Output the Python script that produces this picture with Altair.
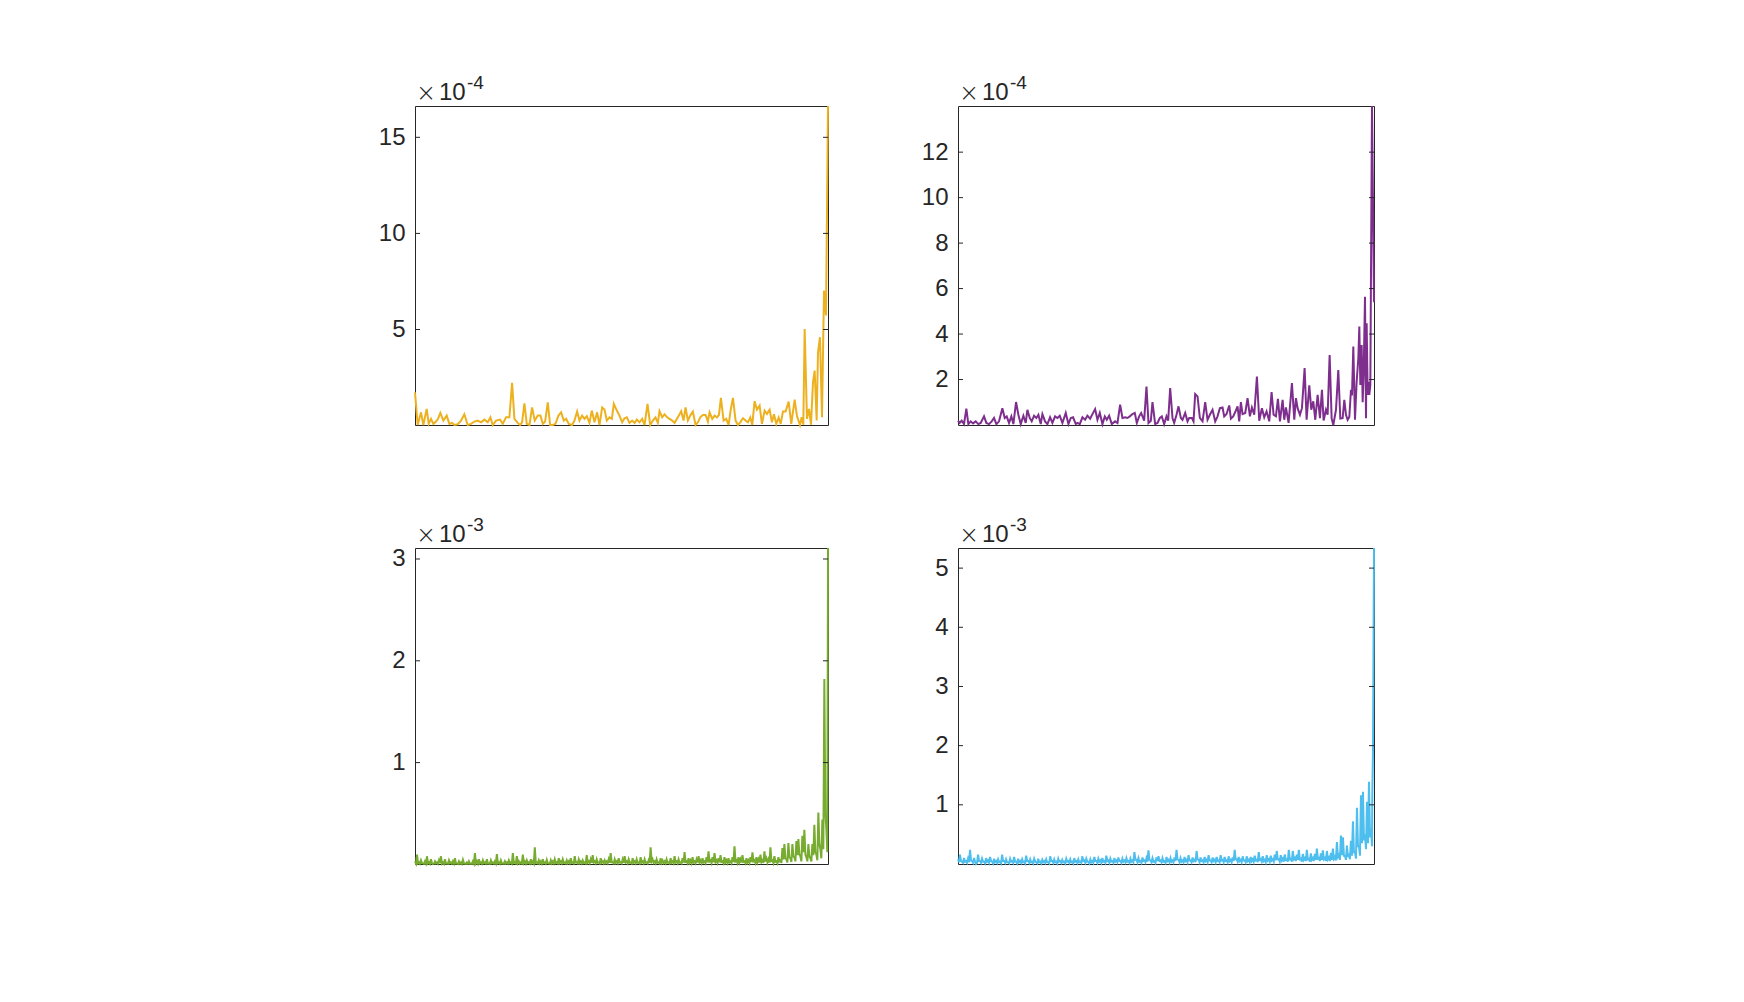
import altair as alt
import pandas as pd

# ---------------- DATA (x in frequency-bin units, y in units of the axis multiplier) ----------------
yellow_x = [7, 15, 25, 32, 42, 48, 55, 62, 70, 76, 83, 92, 102, 110, 118, 125, 135, 145, 155, 165,
            175, 185, 195, 205, 215, 225, 233, 240, 250, 262, 270, 280, 290, 298, 305, 315, 322, 328, 335, 342,
            350, 358, 366, 375, 383, 390, 397, 405, 412, 420, 428, 437, 445, 453, 460, 468, 478, 485, 493, 500,
            508, 515, 522, 530, 537, 545, 553, 560, 568, 575, 582, 590, 597, 603, 612, 620, 628, 635, 642, 650,
            658, 665, 672, 680, 688, 695, 704, 712, 720, 728, 735, 740, 748, 755, 763, 770, 778, 785, 795, 805,
            812, 818, 825, 832, 840, 848, 855, 862, 870, 878, 885, 890, 898, 905, 912, 918, 924, 932, 940, 947,
            953, 960, 968, 975, 982, 990, 998, 1005, 1012, 1018, 1025, 1032, 1040, 1047, 1055, 1062, 1070, 1077, 1083, 1090,
            1097, 1103, 1110, 1118, 1127, 1135, 1145, 1152, 1161, 1166, 1171, 1175, 1182, 1188, 1194, 1200, 1205, 1211, 1215, 1221,
            1227, 1233, 1239, 1245]
yellow_v = [1.73, 0.03, 0.69, 0.03, 0.87, 0.09, 0.35, 0.09, 0.21, 0.35, 0.66, 0.26, 0.52, 0.09, 0.14, 0.03, 0.07, 0.26, 0.59, 0.03,
            0.09, 0.21, 0.26, 0.17, 0.31, 0.17, 0.43, 0.03, 0.26, 0.31, 0.09, 0.43, 0.43, 2.22, 0.35, 0.14, 0.03, 0.17, 1.16, 0.09,
            0.03, 0.94, 0.26, 0.52, 0.52, 0.09, 0.21, 1.21, 0.03, 0.03, 0.09, 0.52, 0.69, 0.26, 0.35, 0.09, 0.03, 0.26, 0.73, 0.26,
            0.52, 0.35, 0.49, 0.14, 0.78, 0.17, 0.69, 0.03, 0.94, 0.83, 0.26, 0.43, 0.35, 1.13, 0.78, 0.52, 0.17, 0.38, 0.43, 0.14,
            0.26, 0.14, 0.31, 0.17, 0.35, 0.03, 1.13, 0.03, 0.26, 0.43, 0.14, 0.75, 0.43, 0.59, 0.43, 0.35, 0.26, 0.14, 0.43, 0.75,
            0.26, 0.95, 0.26, 0.52, 0.73, 0.03, 0.17, 0.43, 0.55, 0.55, 0.21, 0.69, 0.35, 0.52, 0.43, 0.55, 1.44, 0.26, 0.35, 0.03,
            0.78, 1.44, 0.26, 0.03, 0.17, 0.38, 0.26, 0.17, 0.43, 0.03, 1.27, 0.83, 1.04, 0.09, 0.78, 0.61, 0.83, 0.17, 0.59, 0.09,
            0.42, 0.09, 0.73, 0.73, 1.25, 0.09, 1.35, 0.50, 0.03, 0.43, 0.05, 5.03, 0.35, 0.87, 0.05, 2.25, 2.86, 0.26, 3.81, 4.60,
            0.43, 7.03, 5.73, 16.63]

purple_x = [7, 12, 18, 25, 32, 38, 45, 52, 60, 68, 75, 85, 92, 100, 108, 115, 122, 130, 140, 147,
            153, 160, 167, 173, 181, 188, 195, 203, 210, 215, 222, 228, 235, 242, 248, 255, 260, 268, 275, 283,
            290, 298, 305, 312, 320, 330, 338, 345, 352, 360, 365, 372, 380, 388, 395, 403, 410, 418, 425, 432,
            440, 447, 453, 460, 468, 478, 485, 493, 500, 508, 515, 522, 530, 537, 543, 550, 556, 565, 572, 578,
            585, 590, 598, 605, 612, 618, 625, 632, 637, 643, 650, 655, 662, 668, 675, 680, 688, 695, 700, 708,
            713, 718, 725, 732, 740, 748, 755, 762, 770, 778, 785, 792, 800, 805, 812, 820, 825, 832, 838, 845,
            850, 855, 860, 868, 875, 882, 888, 895, 903, 910, 918, 925, 932, 940, 947, 953, 960, 966, 972, 980,
            985, 990, 998, 1008, 1015, 1020, 1025, 1032, 1038, 1046, 1052, 1060, 1066, 1072, 1078, 1085, 1092, 1098, 1103, 1110,
            1115, 1121, 1127, 1132, 1140, 1147, 1153, 1160, 1165, 1170, 1175, 1180, 1185, 1188, 1192, 1197, 1202, 1207, 1210, 1213,
            1217, 1220, 1223, 1227, 1230, 1232, 1235, 1237, 1240, 1243, 1248, 1254]
purple_v = [0.19, 0.09, 0.19, 0.04, 0.72, 0.04, 0.16, 0.07, 0.16, 0.04, 0.09, 0.38, 0.09, 0.04, 0.16, 0.31, 0.04, 0.16, 0.74, 0.31,
            0.38, 0.09, 0.38, 0.04, 1.01, 0.45, 0.04, 0.41, 0.09, 0.67, 0.31, 0.16, 0.41, 0.31, 0.45, 0.04, 0.48, 0.16, 0.04, 0.34,
            0.09, 0.38, 0.31, 0.41, 0.09, 0.53, 0.04, 0.31, 0.34, 0.04, 0.09, 0.04, 0.34, 0.23, 0.41, 0.28, 0.48, 0.70, 0.23, 0.53,
            0.04, 0.38, 0.23, 0.41, 0.04, 0.16, 0.09, 0.89, 0.31, 0.34, 0.31, 0.38, 0.48, 0.53, 0.09, 0.38, 0.53, 0.19, 1.69, 0.09,
            0.19, 1.01, 0.04, 0.09, 0.31, 0.38, 0.04, 0.38, 0.19, 1.62, 0.31, 0.09, 0.45, 0.82, 0.31, 0.23, 0.53, 0.16, 0.31, 0.31,
            0.16, 1.36, 1.26, 0.31, 0.16, 1.01, 0.23, 0.45, 0.67, 0.16, 0.38, 0.74, 0.77, 0.38, 0.48, 0.86, 0.28, 0.38, 0.57, 0.82,
            0.16, 1.01, 0.48, 0.53, 1.18, 0.38, 0.77, 0.45, 2.13, 0.19, 0.74, 0.34, 0.60, 0.16, 1.45, 0.45, 0.38, 1.15, 0.16, 1.11,
            0.23, 0.77, 0.09, 1.84, 0.23, 1.18, 0.74, 0.45, 0.74, 2.50, 0.23, 1.74, 0.67, 1.04, 0.23, 1.33, 0.30, 1.55, 0.20, 0.67,
            0.45, 3.08, 0.29, 0.00, 0.67, 2.42, 0.28, 0.30, 1.11, 0.45, 0.23, 0.35, 1.55, 1.30, 3.45, 0.23, 1.90, 2.93, 4.33, 1.76,
            3.52, 1.00, 2.27, 5.64, 0.30, 4.47, 1.32, 1.90, 1.32, 1.76, 14.03, 5.40]

# green / blue: peak readings every 6 bins from bin 7, trough readings 3 bins later, then the final bins
green_peaks = [0.03, 0.095, 0.02, 0.04, 0.01, 0.03, 0.08, 0.02, 0.05, 0.004,
               0.03, 0.02, 0.04, 0.08, 0.02, 0.05, 0.01, 0.04, 0.02, 0.03,
               0.06, 0.01, 0.03, 0.02, 0.045, 0.01, 0.02, 0.03, 0.01, 0.03,
               0.11, 0.03, 0.05, 0.02, 0.04, 0.02, 0.05, 0.01, 0.04, 0.02,
               0.03, 0.10, 0.02, 0.04, 0.01, 0.03, 0.02, 0.04, 0.02, 0.11,
               0.02, 0.08, 0.03, 0.02, 0.095, 0.03, 0.04, 0.02, 0.05, 0.03,
               0.167, 0.02, 0.04, 0.03, 0.05, 0.02, 0.045, 0.01, 0.04, 0.03,
               0.05, 0.02, 0.06, 0.03, 0.05, 0.02, 0.04, 0.03, 0.06, 0.02,
               0.08, 0.02, 0.05, 0.03, 0.04, 0.02, 0.09, 0.03, 0.05, 0.09,
               0.03, 0.05, 0.02, 0.06, 0.03, 0.04, 0.03, 0.05, 0.11, 0.02,
               0.05, 0.03, 0.06, 0.02, 0.05, 0.08, 0.03, 0.05, 0.02, 0.06,
               0.03, 0.05, 0.02, 0.07, 0.03, 0.05, 0.02, 0.04, 0.167, 0.05,
               0.03, 0.05, 0.02, 0.06, 0.04, 0.03, 0.05, 0.02, 0.06, 0.03,
               0.08, 0.03, 0.05, 0.02, 0.06, 0.12, 0.03, 0.06, 0.04, 0.07,
               0.03, 0.05, 0.08, 0.04, 0.06, 0.03, 0.07, 0.128, 0.04, 0.07,
               0.11, 0.04, 0.06, 0.09, 0.03, 0.07, 0.04, 0.06, 0.03, 0.07,
               0.177, 0.04, 0.07, 0.05, 0.09, 0.03, 0.06, 0.04, 0.07, 0.118,
               0.04, 0.07, 0.05, 0.095, 0.04, 0.128, 0.06, 0.05, 0.167, 0.04,
               0.08, 0.03, 0.07, 0.04, 0.16, 0.20, 0.05, 0.21, 0.06, 0.20,
               0.07, 0.23, 0.25, 0.08, 0.28, 0.34, 0.07, 0.20, 0.06, 0.20,
               0.39, 0.10, 0.51, 0.15, 0.44, 1.82, 0.35]
green_troughs = [0.008, 0.01, 0.006, 0.012, 0.005, 0.009, 0.01, 0.006, 0.012, 0.008,
                 0.01, 0.006, 0.012, 0.008, 0.005, 0.01, 0.007, 0.012, 0.006, 0.009,
                 0.01, 0.005, 0.008, 0.006, 0.01, 0.005, 0.008, 0.006, 0.005, 0.009,
                 0.012, 0.008, 0.01, 0.006, 0.012, 0.008, 0.01, 0.006, 0.012, 0.008,
                 0.01, 0.012, 0.007, 0.01, 0.006, 0.009, 0.008, 0.012, 0.007, 0.015,
                 0.01, 0.012, 0.008, 0.01, 0.014, 0.009, 0.012, 0.008, 0.014, 0.01,
                 0.015, 0.01, 0.012, 0.009, 0.014, 0.008, 0.012, 0.007, 0.012, 0.01,
                 0.014, 0.01, 0.016, 0.012, 0.015, 0.01, 0.014, 0.012, 0.016, 0.01,
                 0.018, 0.01, 0.015, 0.012, 0.014, 0.01, 0.018, 0.012, 0.016, 0.02,
                 0.012, 0.016, 0.01, 0.018, 0.012, 0.015, 0.012, 0.016, 0.02, 0.01,
                 0.016, 0.012, 0.018, 0.01, 0.016, 0.02, 0.012, 0.016, 0.01, 0.018,
                 0.012, 0.016, 0.01, 0.02, 0.012, 0.016, 0.01, 0.014, 0.03, 0.016,
                 0.012, 0.016, 0.01, 0.018, 0.014, 0.012, 0.016, 0.01, 0.018, 0.012,
                 0.02, 0.012, 0.016, 0.01, 0.018, 0.025, 0.012, 0.018, 0.014, 0.02,
                 0.012, 0.018, 0.022, 0.014, 0.02, 0.012, 0.02, 0.03, 0.014, 0.02,
                 0.025, 0.015, 0.02, 0.025, 0.012, 0.02, 0.015, 0.02, 0.012, 0.022,
                 0.03, 0.015, 0.022, 0.018, 0.025, 0.012, 0.02, 0.015, 0.022, 0.03,
                 0.015, 0.022, 0.018, 0.025, 0.015, 0.03, 0.02, 0.018, 0.035, 0.015,
                 0.025, 0.012, 0.03, 0.015, 0.05, 0.06, 0.02, 0.07, 0.025, 0.08,
                 0.03, 0.09, 0.10, 0.03, 0.12, 0.10, 0.03, 0.08, 0.03, 0.09,
                 0.12, 0.04, 0.20, 0.06, 0.15, 0.50, 0.12]
green_end_x = [1248]
green_end_v = [3.108]

blue_peaks = [0.08, 0.16, 0.04, 0.10, 0.05, 0.09, 0.24, 0.05, 0.10, 0.00,
              0.16, 0.05, 0.09, 0.04, 0.10, 0.06, 0.12, 0.04, 0.09, 0.05,
              0.08, 0.04, 0.16, 0.05, 0.08, 0.03, 0.09, 0.05, 0.12, 0.04,
              0.09, 0.05, 0.08, 0.04, 0.14, 0.05, 0.08, 0.04, 0.09, 0.03,
              0.09, 0.04, 0.07, 0.05, 0.08, 0.03, 0.13, 0.05, 0.08, 0.04,
              0.09, 0.05, 0.07, 0.04, 0.09, 0.05, 0.08, 0.04, 0.10, 0.05,
              0.08, 0.04, 0.13, 0.06, 0.09, 0.04, 0.08, 0.05, 0.12, 0.05,
              0.09, 0.06, 0.10, 0.05, 0.14, 0.06, 0.09, 0.05, 0.10, 0.06,
              0.11, 0.05, 0.09, 0.06, 0.10, 0.05, 0.09, 0.06, 0.20, 0.07,
              0.10, 0.05, 0.11, 0.06, 0.10, 0.23, 0.06, 0.10, 0.05, 0.11,
              0.13, 0.06, 0.10, 0.05, 0.12, 0.07, 0.10, 0.06, 0.11, 0.24,
              0.07, 0.10, 0.06, 0.12, 0.07, 0.15, 0.06, 0.11, 0.07, 0.22,
              0.07, 0.11, 0.06, 0.12, 0.07, 0.15, 0.06, 0.11, 0.07, 0.12,
              0.06, 0.15, 0.07, 0.12, 0.06, 0.13, 0.07, 0.11, 0.24, 0.08,
              0.12, 0.07, 0.13, 0.06, 0.13, 0.07, 0.12, 0.08, 0.14, 0.07,
              0.20, 0.08, 0.13, 0.07, 0.15, 0.08, 0.14, 0.08, 0.16, 0.22,
              0.08, 0.15, 0.09, 0.16, 0.08, 0.24, 0.09, 0.22, 0.10, 0.16,
              0.24, 0.09, 0.17, 0.10, 0.24, 0.09, 0.18, 0.10, 0.17, 0.26,
              0.10, 0.18, 0.23, 0.10, 0.22, 0.11, 0.19, 0.26, 0.12, 0.37,
              0.15, 0.48, 0.45, 0.14, 0.31, 0.18, 0.39, 0.72, 0.20, 0.95,
              0.30, 1.16, 1.22, 0.50, 1.05, 1.39, 0.60]
blue_troughs = [0.03, 0.05, 0.02, 0.04, 0.02, 0.03, 0.06, 0.02, 0.04, 0.02,
                0.05, 0.02, 0.04, 0.01, 0.04, 0.02, 0.05, 0.01, 0.03, 0.02,
                0.03, 0.01, 0.05, 0.02, 0.03, 0.01, 0.04, 0.02, 0.04, 0.01,
                0.03, 0.02, 0.03, 0.01, 0.05, 0.02, 0.03, 0.01, 0.04, 0.01,
                0.03, 0.01, 0.03, 0.02, 0.03, 0.01, 0.05, 0.02, 0.03, 0.01,
                0.04, 0.02, 0.03, 0.01, 0.04, 0.02, 0.03, 0.01, 0.04, 0.02,
                0.03, 0.02, 0.05, 0.02, 0.04, 0.01, 0.03, 0.02, 0.05, 0.02,
                0.04, 0.02, 0.04, 0.02, 0.05, 0.02, 0.04, 0.02, 0.04, 0.03,
                0.05, 0.02, 0.04, 0.03, 0.04, 0.02, 0.04, 0.03, 0.07, 0.03,
                0.04, 0.02, 0.05, 0.03, 0.04, 0.07, 0.03, 0.04, 0.02, 0.05,
                0.05, 0.03, 0.04, 0.02, 0.05, 0.03, 0.04, 0.03, 0.05, 0.08,
                0.03, 0.04, 0.03, 0.05, 0.03, 0.06, 0.03, 0.05, 0.03, 0.08,
                0.03, 0.05, 0.03, 0.05, 0.03, 0.06, 0.03, 0.05, 0.03, 0.05,
                0.03, 0.06, 0.03, 0.05, 0.03, 0.05, 0.03, 0.05, 0.08, 0.04,
                0.05, 0.03, 0.06, 0.03, 0.05, 0.03, 0.05, 0.04, 0.06, 0.03,
                0.07, 0.04, 0.05, 0.03, 0.06, 0.04, 0.06, 0.04, 0.06, 0.08,
                0.04, 0.06, 0.04, 0.07, 0.04, 0.08, 0.04, 0.08, 0.05, 0.07,
                0.08, 0.04, 0.07, 0.05, 0.08, 0.04, 0.07, 0.05, 0.07, 0.09,
                0.05, 0.07, 0.08, 0.05, 0.08, 0.05, 0.07, 0.09, 0.06, 0.12,
                0.07, 0.15, 0.14, 0.07, 0.12, 0.08, 0.14, 0.20, 0.09, 0.30,
                0.14, 0.35, 0.40, 0.25, 0.35, 0.45, 0.30]
blue_end_x = [1247, 1249, 1252]
blue_end_v = [1.22, 1.90, 5.34]

bin_start = 7
bin_step = 6
trough_shift = 3

yellow_ticks = [5, 10, 15]
purple_ticks = [2, 4, 6, 8, 10, 12]
green_ticks = [1, 2, 3]
blue_ticks = [1, 2, 3, 4, 5]
exponents = ["-4", "-4", "-3", "-3"]
colors = ["#EDB120", "#7E2F8E", "#77AC30", "#4DBEEE"]


def interleave(peaks, troughs, end_x, end_v):
    xs, vs = [], []
    for k, (p, t) in enumerate(zip(peaks, troughs)):
        xs += [bin_start + bin_step * k, bin_start + bin_step * k + trough_shift]
        vs += [p, t]
    return xs + end_x, vs + end_v


green_x, green_v = interleave(green_peaks, green_troughs, green_end_x, green_end_v)
blue_x, blue_v = interleave(blue_peaks, blue_troughs, blue_end_x, blue_end_v)

FONT = "Liberation Sans"
INK = "#262626"


def panel(xs, vs, color, ticks, exp, w, h, sw):
    df = pd.DataFrame({"f": xs, "v": vs})
    xsc = alt.Scale(domain=[min(xs), max(xs)], nice=False, zero=False)
    ysc = alt.Scale(domain=[min(vs), max(vs)], nice=False, zero=False)
    yax = alt.Axis(values=ticks, ticks=False, tickSize=0, domain=False, grid=False,
                   labelPadding=10, labelFontSize=24, labelFont=FONT, labelColor=INK,
                   title=None, format="d")
    y_enc = alt.Y("v:Q", scale=ysc, axis=yax)
    line = alt.Chart(df).mark_line(color=color, strokeWidth=sw, strokeJoin="miter").encode(
        x=alt.X("f:Q", scale=xsc, axis=None), y=y_enc)
    tdf = pd.DataFrame({"v": ticks})
    lt = alt.Chart(tdf).mark_rule(color=INK, strokeWidth=1).encode(
        y=y_enc, x=alt.value(0), x2=alt.value(5))
    rt = alt.Chart(tdf).mark_rule(color=INK, strokeWidth=1).encode(
        y=y_enc, x=alt.value(w - 5), x2=alt.value(w))
    lab = pd.DataFrame({"a": ["×"], "b": ["10"], "c": [exp]})
    t1 = alt.Chart(lab).mark_text(font="DejaVu Sans", fontSize=24, fontWeight=300, color=INK,
                                  align="left", baseline="alphabetic").encode(
        text="a:N", x=alt.value(1), y=alt.value(-5))
    t2 = alt.Chart(lab).mark_text(font=FONT, fontSize=24, color=INK, align="left",
                                  baseline="alphabetic").encode(
        text="b:N", x=alt.value(24), y=alt.value(-6))
    t3 = alt.Chart(lab).mark_text(font=FONT, fontSize=19, color=INK, align="left",
                                  baseline="alphabetic").encode(
        text="c:N", x=alt.value(52), y=alt.value(-17))
    return alt.layer(line, lt, rt, t1, t2, t3).properties(width=w, height=h)


p1 = panel(yellow_x, yellow_v, colors[0], yellow_ticks, exponents[0], 413, 319, 2.0)
p2 = panel(purple_x, purple_v, colors[1], purple_ticks, exponents[1], 416, 319, 2.0)
p3 = panel(green_x, green_v, colors[2], green_ticks, exponents[2], 413, 316, 2.0)
p4 = panel(blue_x, blue_v, colors[3], blue_ticks, exponents[3], 416, 316, 2.0)

chart = alt.concat(p1, p2, p3, p4, columns=2, spacing={"row": 123, "column": 130},
                   bounds="flush").properties(
    padding={"left": 369, "top": 65, "right": 5, "bottom": 5}
).configure_view(stroke=INK, strokeWidth=1)

chart.save("out.html", embed_options={"renderer": "svg", "actions": False})
